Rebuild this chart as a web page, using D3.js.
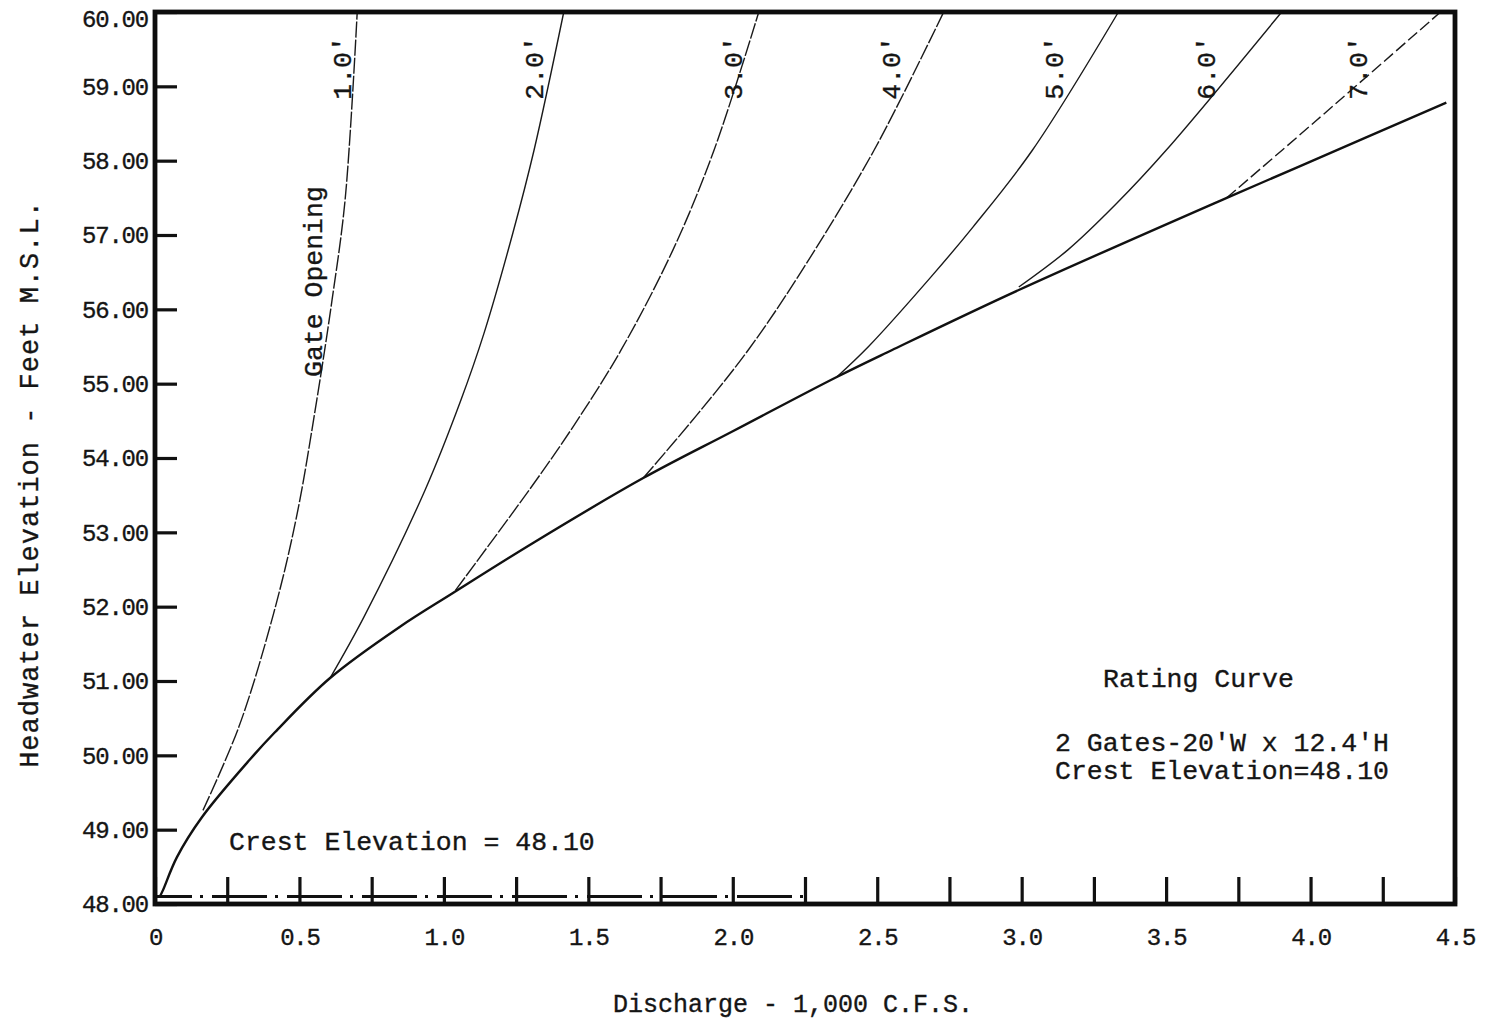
<!DOCTYPE html>
<html>
<head>
<meta charset="utf-8">
<script src="https://cdn.jsdelivr.net/npm/d3@7"></script>
<style>
  html, body { margin: 0; padding: 0; background: #fff; }
  svg { display: block; }
  text { font-family: "Liberation Mono", "DejaVu Sans Mono", monospace; fill: #151515; stroke: #151515; stroke-width: 0.35px; }
</style>
</head>
<body>
<svg id="chart" width="1492" height="1022"></svg>
<script>
// ---- Data: discharge (1,000 c.f.s.) vs headwater elevation (ft M.S.L.) ----
const elevationTicks = [48, 49, 50, 51, 52, 53, 54, 55, 56, 57, 58, 59, 60];
const dischargeTicks = [0, 0.25, 0.5, 0.75, 1, 1.25, 1.5, 1.75, 2, 2.25, 2.5, 2.75, 3, 3.25, 3.5, 3.75, 4, 4.25, 4.5];
const dischargeLabelValues = [0, 0.5, 1, 1.5, 2, 2.5, 3, 3.5, 4, 4.5];
const dischargeLabels = ["0", "0.5", "1.0", "1.5", "2.0", "2.5", "3.0", "3.5", "4.0", "4.5"];

const crestElevation = 48.10;
const crestLineExtent = [0, 2.26];

// free-flow rating curve [discharge, elevation]
const ratingCurve = [
  [0.017, 48.10], [0.028, 48.19], [0.076, 48.63], [0.163, 49.17], [0.33, 49.95],
  [0.415, 50.31], [0.606, 51.04], [0.848, 51.73], [1.03, 52.18], [1.31, 52.86],
  [1.69, 53.73], [2.00, 54.36], [2.36, 55.09], [2.55, 55.45],
  [2.99, 56.26], [3.71, 57.50], [3.96, 57.92], [4.47, 58.78]
];

// controlled flow for each gate opening
const gateNames = ["1.0'", "2.0'", "3.0'", "4.0'", "5.0'", "6.0'", "7.0'"];
const gate1 = [[0.166, 49.26], [0.29, 50.38], [0.41, 51.90], [0.49, 53.21], [0.56, 54.78], [0.613, 56.13], [0.658, 57.47], [0.70, 60.00]];
const gate2 = [[0.606, 51.04], [0.723, 51.86], [0.935, 53.57], [1.059, 54.78], [1.139, 55.68], [1.239, 57.03], [1.312, 58.14], [1.415, 60.00]];
const gate3 = [[1.04, 52.22], [1.312, 53.66], [1.447, 54.42], [1.613, 55.45], [1.793, 56.80], [1.935, 58.14], [2.09, 60.00]];
const gate4 = [[1.69, 53.73], [1.876, 54.58], [2.053, 55.45], [2.226, 56.44], [2.489, 58.14], [2.73, 60.00]];
const gate5 = [[2.36, 55.09], [2.47, 55.50], [2.687, 56.44], [2.832, 57.11], [3.037, 58.14], [3.335, 60.00]];
const gate6 = [[2.99, 56.30], [3.16, 56.80], [3.33, 57.43], [3.50, 58.14], [3.90, 60.00]];
const gate7 = [[3.71, 57.50], [4.02, 58.54], [4.45, 60.00]];
const gateCurves = [gate1, gate2, gate3, gate4, gate5, gate6, gate7];

// ---- Layout ----
const svg = d3.select("#chart");
const plot = { left: 155, right: 1455, top: 12, bottom: 904 };
const x = d3.scaleLinear().domain([0, 4.5]).range([plot.left, plot.right]);
const y = d3.scaleLinear().domain([48, 60]).range([plot.bottom, plot.top]);

// where each gate-opening label sits (discharge of its baseline, elevation of its start)
const gateLabelQ = [0.678, 1.343, 2.032, 2.579, 3.143, 3.669, 4.195];
const gateLabelElev = 58.82;
const gateDash = ["16,2", null, "16,2", "16,2", null, null, "12,4"];

// ---- Axes ----
const labelOf = new Map(dischargeLabelValues.map((v, i) => [v, dischargeLabels[i]]));

const yAxisG = svg.append("g")
  .attr("transform", `translate(${plot.left},0)`)
  .call(d3.axisLeft(y).tickValues(elevationTicks).tickFormat(d3.format(".2f")).tickSize(-22).tickPadding(7));
const xAxisG = svg.append("g")
  .attr("transform", `translate(0,${plot.bottom})`)
  .call(d3.axisBottom(x).tickValues(dischargeTicks).tickFormat(d => labelOf.get(d) || "").tickSize(-27).tickPadding(24));

[yAxisG, xAxisG].forEach(g => {
  g.attr("font-family", null).attr("font-size", null);
  g.select(".domain").remove();
  g.selectAll(".tick line").attr("stroke", "#111").attr("stroke-width", 3.2);
  g.selectAll(".tick text")
    .style("font-size", "24px")
    .style("letter-spacing", "-1.2px")
    .attr("fill", "#151515");
});
// the top elevation label sits just below the frame edge
yAxisG.selectAll(".tick text").filter(d => d === 60).attr("dy", "0.62em");

// ---- Crest elevation reference line (dash-dot) ----
svg.append("path")
  .datum(crestLineExtent.map(q => [q, crestElevation]))
  .attr("d", d3.line().x(d => x(d[0])).y(d => y(d[1])))
  .attr("fill", "none")
  .attr("stroke", "#111")
  .attr("stroke-width", 3)
  .attr("stroke-dasharray", "55,8,3,9")
  .attr("stroke-dashoffset", 18);

// ---- Curves ----
const line = d3.line().x(d => x(d[0])).y(d => y(d[1])).curve(d3.curveCatmullRom.alpha(0.5));

svg.append("g").selectAll("path.gate")
  .data(gateCurves)
  .join("path")
  .attr("class", "gate")
  .attr("d", line)
  .attr("fill", "none")
  .attr("stroke", "#1a1a1a")
  .attr("stroke-width", 1.4)
  .attr("stroke-dasharray", (d, i) => gateDash[i]);

svg.append("path")
  .datum(ratingCurve)
  .attr("d", line)
  .attr("fill", "none")
  .attr("stroke", "#111")
  .attr("stroke-width", 2.4);

// ---- Frame ----
svg.append("rect")
  .attr("x", plot.left).attr("y", plot.top)
  .attr("width", plot.right - plot.left).attr("height", plot.bottom - plot.top)
  .attr("fill", "none")
  .attr("stroke", "#0d0d0d")
  .attr("stroke-width", 4.8);

// ---- Gate opening labels ----
svg.append("g").selectAll("text")
  .data(gateNames)
  .join("text")
  .attr("transform", (d, i) => `translate(${x(gateLabelQ[i])},${y(gateLabelElev)}) rotate(-90)`)
  .style("font-size", "26.5px")
  .text(d => d);

svg.append("text")
  .attr("transform", `translate(322,377) rotate(-90)`)
  .style("font-size", "26.5px")
  .text("Gate Opening");

// ---- Annotations ----
svg.append("text").attr("x", 229).attr("y", 850).style("font-size", "26.5px").text("Crest Elevation = 48.10");
svg.append("text").attr("x", 1103).attr("y", 687).style("font-size", "26.5px").text("Rating Curve");
svg.append("text").attr("x", 1055).attr("y", 751).style("font-size", "26.5px").text("2 Gates-20'W x 12.4'H");
svg.append("text").attr("x", 1055).attr("y", 779).style("font-size", "26.5px").text("Crest Elevation=48.10");

// ---- Axis titles ----
svg.append("text")
  .attr("x", 793).attr("y", 1012)
  .attr("text-anchor", "middle")
  .style("font-size", "25px")
  .text("Discharge - 1,000 C.F.S.");

svg.append("text")
  .attr("transform", "translate(38,484) rotate(-90)")
  .attr("text-anchor", "middle")
  .style("font-size", "27px")
  .style("letter-spacing", "1px")
  .text("Headwater Elevation - Feet M.S.L.");
</script>
</body>
</html>
